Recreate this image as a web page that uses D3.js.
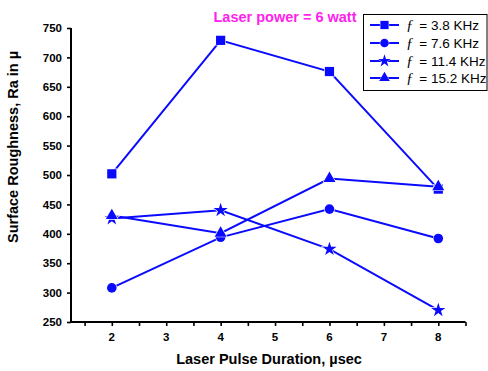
<!DOCTYPE html>
<html>
<head>
<meta charset="utf-8">
<script src="https://cdn.jsdelivr.net/npm/d3@7"></script>
<style>
  html, body { margin: 0; padding: 0; background: #fff; }
  svg { display: block; font-family: Arial, "Liberation Sans", sans-serif; }
</style>
</head>
<body>
<svg id="chart" width="488" height="371"></svg>
<script>
// Pulse duration (µsec) on the x axis
const durations = [2, 4, 6, 8];
// Surface roughness per repetition frequency
const seriesNames = ["3.8 KHz", "7.6 KHz", "11.4 KHz", "15.2 KHz"];
const ra38 = [502, 729, 676, 476];
const ra76 = [308, 394, 442, 392];
const ra114 = [426, 440, 374, 270];
const ra152 = [431, 401, 494, 480];
const yTicks = [250, 300, 350, 400, 450, 500, 550, 600, 650, 700, 750];
const xLabelTicks = [2, 3, 4, 5, 6, 7, 8];
const xMinorTicks = [1.5, 2, 2.5, 3, 3.5, 4, 4.5, 5, 5.5, 6, 6.5, 7, 7.5, 8, 8.5];

const series = [
  { name: seriesNames[0], values: ra38, symbol: d3.symbolSquare, size: 85 },
  { name: seriesNames[1], values: ra76, symbol: d3.symbolCircle, size: 72 },
  { name: seriesNames[2], values: ra114, symbol: d3.symbolStar, size: 62 },
  { name: seriesNames[3], values: ra152, symbol: d3.symbolTriangle, size: 62 }
];

const blue = "#0a0aff";
const svg = d3.select("#chart");
const x = d3.scaleLinear().domain([1.25, 8.5]).range([71, 465.5]);
const y = d3.scaleLinear().domain([250, 750]).range([322, 28]);

// Axes
const xAxisTicks = d3.axisBottom(x).tickValues(xMinorTicks).tickSize(4).tickFormat("");
const gx = svg.append("g").attr("transform", "translate(0,322)").call(xAxisTicks);
gx.select(".domain").attr("d", `M${x(1.25)},0H${x(8.5)}`).attr("stroke-width", 2);
gx.selectAll(".tick line").attr("stroke-width", 1.6);

svg.append("g").selectAll("text").data(xLabelTicks).join("text")
  .attr("x", d => x(d)).attr("y", 341)
  .attr("text-anchor", "middle")
  .attr("font-size", 11.5).attr("font-weight", "bold")
  .text(d => d);

const yAxis = d3.axisLeft(y).tickValues(yTicks).tickSize(4).tickPadding(4);
const gy = svg.append("g").attr("transform", "translate(71,0)").call(yAxis);
gy.select(".domain").attr("d", `M0,${y(750)}V${y(250)}`).attr("stroke-width", 2);
gy.selectAll(".tick line").attr("stroke-width", 1.6);
gy.selectAll(".tick text").attr("font-size", 11.5).attr("font-weight", "bold")
  .attr("font-family", "Arial, 'Liberation Sans', sans-serif").attr("fill", "#000")
  .attr("dx", -1);

// Axis titles
svg.append("text")
  .attr("x", 269).attr("y", 364)
  .attr("text-anchor", "middle")
  .attr("font-size", 14.5).attr("font-weight", "bold")
  .text("Laser Pulse Duration, µsec");

svg.append("text")
  .attr("transform", "translate(18,147) rotate(-90)")
  .attr("text-anchor", "middle")
  .attr("font-size", 14.5).attr("font-weight", "bold")
  .text("Surface Roughness, Ra in µ");

// Title
svg.append("text")
  .attr("x", 285).attr("y", 22)
  .attr("text-anchor", "middle")
  .attr("font-size", 14.5).attr("font-weight", "bold")
  .attr("fill", "#ff22ee")
  .text("Laser power = 6 watt");

// Lines and markers
const line = d3.line().x((d, i) => x(durations[i])).y(d => y(d));
const gSeries = svg.append("g");
series.forEach(s => {
  gSeries.append("path")
    .attr("d", line(s.values))
    .attr("fill", "none").attr("stroke", blue).attr("stroke-width", 2);
});
series.forEach(s => {
  gSeries.append("g").selectAll("path").data(s.values).join("path")
    .attr("transform", (d, i) => `translate(${x(durations[i])},${y(d)})`)
    .attr("d", d3.symbol().type(s.symbol).size(s.size))
    .attr("fill", blue)
    .attr("stroke", "#fff").attr("stroke-width", 1.2)
    .attr("paint-order", "stroke");
});

// Legend
const lg = svg.append("g");
lg.append("rect")
  .attr("x", 363.5).attr("y", 14.5).attr("width", 123.5).attr("height", 76)
  .attr("fill", "#fff").attr("stroke", "#000").attr("stroke-width", 1);
const rowY = [25, 43, 61, 78];
series.forEach((s, i) => {
  const g = lg.append("g").attr("transform", `translate(0,${rowY[i]})`);
  g.append("line").attr("x1", 370).attr("x2", 399).attr("y1", 0).attr("y2", 0)
    .attr("stroke", blue).attr("stroke-width", 2);
  g.append("path").attr("transform", "translate(384.5,0)")
    .attr("d", d3.symbol().type(s.symbol).size(s.size * 0.8))
    .attr("fill", blue)
    .attr("stroke", "#fff").attr("stroke-width", 1)
    .attr("paint-order", "stroke");
  const t = g.append("text").attr("x", 406).attr("y", 5).attr("font-size", 13.5);
  t.append("tspan").attr("font-style", "italic").attr("font-family", "'Liberation Serif', serif")
    .attr("font-size", 15).text("ƒ");
  t.append("tspan").attr("dx", 2).text(" = " + s.name);
});
</script>
</body>
</html>
